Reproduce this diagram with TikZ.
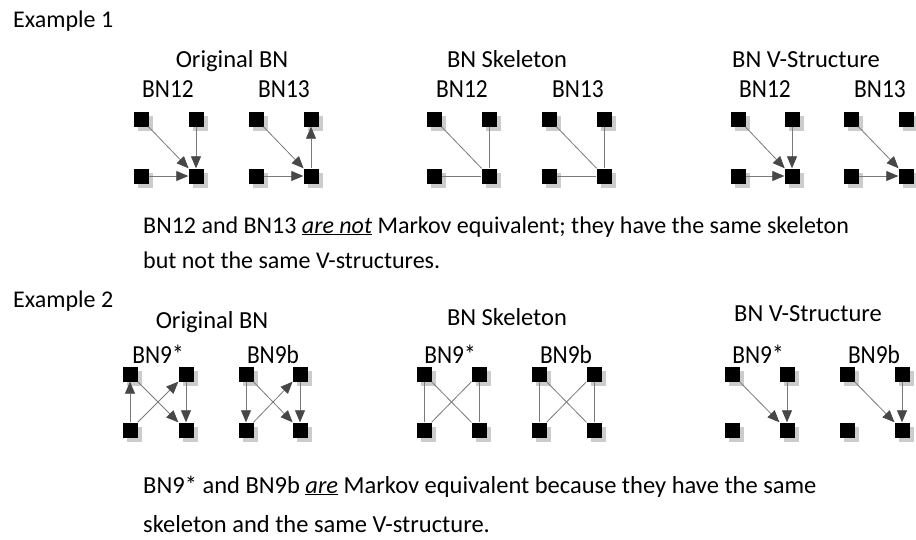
\documentclass[tikz,border=0pt]{standalone}
\usepackage{fontspec}
\setmainfont{Carlito}
\usetikzlibrary{arrows.meta,shadows}
\tikzset{
 bnsq/.style={rectangle, fill=black, minimum size=15pt, inner sep=0pt,
   drop shadow={shadow xshift=4pt, shadow yshift=-4pt, fill=black!20, opacity=1}},
 dirE/.style={draw=black!52, line width=0.8pt, -{Triangle[length=12pt,width=10pt,color=black!72]}},
 undE/.style={draw=black!52, line width=0.8pt},
 ttl/.style={font=\fontsize{24.5}{28}\selectfont, anchor=base, inner sep=0pt},
 lbl/.style={anchor=base, inner sep=0pt},
 exlab/.style={font=\fontsize{24}{28}\selectfont, anchor=base west, inner sep=0pt},
 captxt/.style={font=\fontsize{24}{30}\selectfont, anchor=base west, inner sep=0pt},
 captxtb/.style={font=\fontsize{24.5}{30}\selectfont, anchor=base west, inner sep=0pt},
}
\newcommand\bnlab[1]{\fontsize{26}{30}\selectfont\scalebox{0.9}[1]{#1}}
\newcommand\bngrp[5]{%
 \node[bnsq] (#1-tl) at (#2,#4) {};
 \node[bnsq] (#1-tr) at (#3,#4) {};
 \node[bnsq] (#1-bl) at (#2,#5) {};
 \node[bnsq] (#1-br) at (#3,#5) {};
}
\begin{document}
\begin{tikzpicture}[x=1pt,y=-1pt]
\useasboundingbox (0,0) rectangle (916,539);
\fill[white] (0,0) rectangle (916,539);

% ---------- Example 1 ----------
\node[exlab] (ex1) at (13,27) {Example 1};
\node[ttl] (t11) at (232,67) {Original BN};
\node[ttl] (t12) at (507,67) {BN Skeleton};
\node[ttl] (t13) at (806,67) {BN V-Structure};

\node[lbl] (l1a) at (168,97) {\bnlab{BN12}};
\node[lbl] (l1b) at (284,97) {\bnlab{BN13}};
\node[lbl] (l1c) at (462,97) {\bnlab{BN12}};
\node[lbl] (l1d) at (578,97) {\bnlab{BN13}};
\node[lbl] (l1e) at (765,97) {\bnlab{BN12}};
\node[lbl] (l1f) at (880,97) {\bnlab{BN13}};

\bngrp{oa}{141}{196}{119}{176}
\bngrp{ob}{256}{311}{119}{176}
\bngrp{sa}{434}{489}{119}{176}
\bngrp{sb}{549}{604}{119}{176}
\bngrp{va}{738}{792}{119}{176}
\bngrp{vb}{851}{906}{119}{176}

\draw[dirE] (oa-tl) -- (oa-br);
\draw[dirE] (oa-tr) -- (oa-br);
\draw[dirE] (oa-bl) -- (oa-br);
\draw[dirE] (ob-tl) -- (ob-br);
\draw[dirE] (ob-bl) -- (ob-br);
\draw[dirE] (ob-br) -- (ob-tr);

\draw[undE] (sa-tl) -- (sa-br);
\draw[undE] (sa-tr) -- (sa-br);
\draw[undE] (sa-bl) -- (sa-br);
\draw[undE] (sb-tl) -- (sb-br);
\draw[undE] (sb-tr) -- (sb-br);
\draw[undE] (sb-bl) -- (sb-br);

\draw[dirE] (va-tl) -- (va-br);
\draw[dirE] (va-tr) -- (va-br);
\draw[dirE] (va-bl) -- (va-br);
\draw[dirE] (vb-tl) -- (vb-br);
\draw[dirE] (vb-bl) -- (vb-br);

\node[captxt] (c1a) at (143,233) {BN12 and BN13 \underline{\textit{are not}} Markov equivalent; they have the same skeleton};
\node[captxt] (c1b) at (143,268) {but not the same V-structures.};

% ---------- Example 2 ----------
\node[exlab] (ex2) at (13,307) {Example 2};
\node[ttl] (t21) at (212,328) {Original BN};
\node[ttl] (t22) at (507,325) {BN Skeleton};
\node[ttl] (t23) at (808,321) {BN V-Structure};

\node[lbl] (l2a) at (158,363) {\bnlab{BN9*}};
\node[lbl] (l2b) at (273,363) {\bnlab{BN9b}};
\node[lbl] (l2c) at (450,363) {\bnlab{BN9*}};
\node[lbl] (l2d) at (566,363) {\bnlab{BN9b}};
\node[lbl] (l2e) at (758,363) {\bnlab{BN9*}};
\node[lbl] (l2f) at (874,363) {\bnlab{BN9b}};

\bngrp{pa}{130}{186}{374}{430}
\bngrp{pb}{246}{300}{374}{430}
\bngrp{ka}{424}{479}{374}{430}
\bngrp{kb}{539}{594}{374}{430}
\bngrp{wa}{732}{787}{374}{430}
\bngrp{wb}{847}{902}{374}{430}

\draw[dirE] (pa-bl) -- (pa-tl);
\draw[dirE] (pa-bl) -- (pa-tr);
\draw[dirE] (pa-tl) -- (pa-br);
\draw[dirE] (pa-tr) -- (pa-br);
\draw[dirE] (pb-tl) -- (pb-bl);
\draw[dirE] (pb-bl) -- (pb-tr);
\draw[dirE] (pb-tl) -- (pb-br);
\draw[dirE] (pb-tr) -- (pb-br);

\draw[undE] (ka-tl) -- (ka-bl);
\draw[undE] (ka-tl) -- (ka-br);
\draw[undE] (ka-tr) -- (ka-bl);
\draw[undE] (ka-tr) -- (ka-br);
\draw[undE] (kb-tl) -- (kb-bl);
\draw[undE] (kb-tl) -- (kb-br);
\draw[undE] (kb-tr) -- (kb-bl);
\draw[undE] (kb-tr) -- (kb-br);

\draw[dirE] (wa-tl) -- (wa-br);
\draw[dirE] (wa-tr) -- (wa-br);
\draw[dirE] (wb-tl) -- (wb-br);
\draw[dirE] (wb-tr) -- (wb-br);

\node[captxtb] (c2a) at (143,493) {BN9* and BN9b \underline{\textit{are}} Markov equivalent because they have the same};
\node[captxtb] (c2b) at (143,532) {skeleton and the same V-structure.};
\end{tikzpicture}
\end{document}
